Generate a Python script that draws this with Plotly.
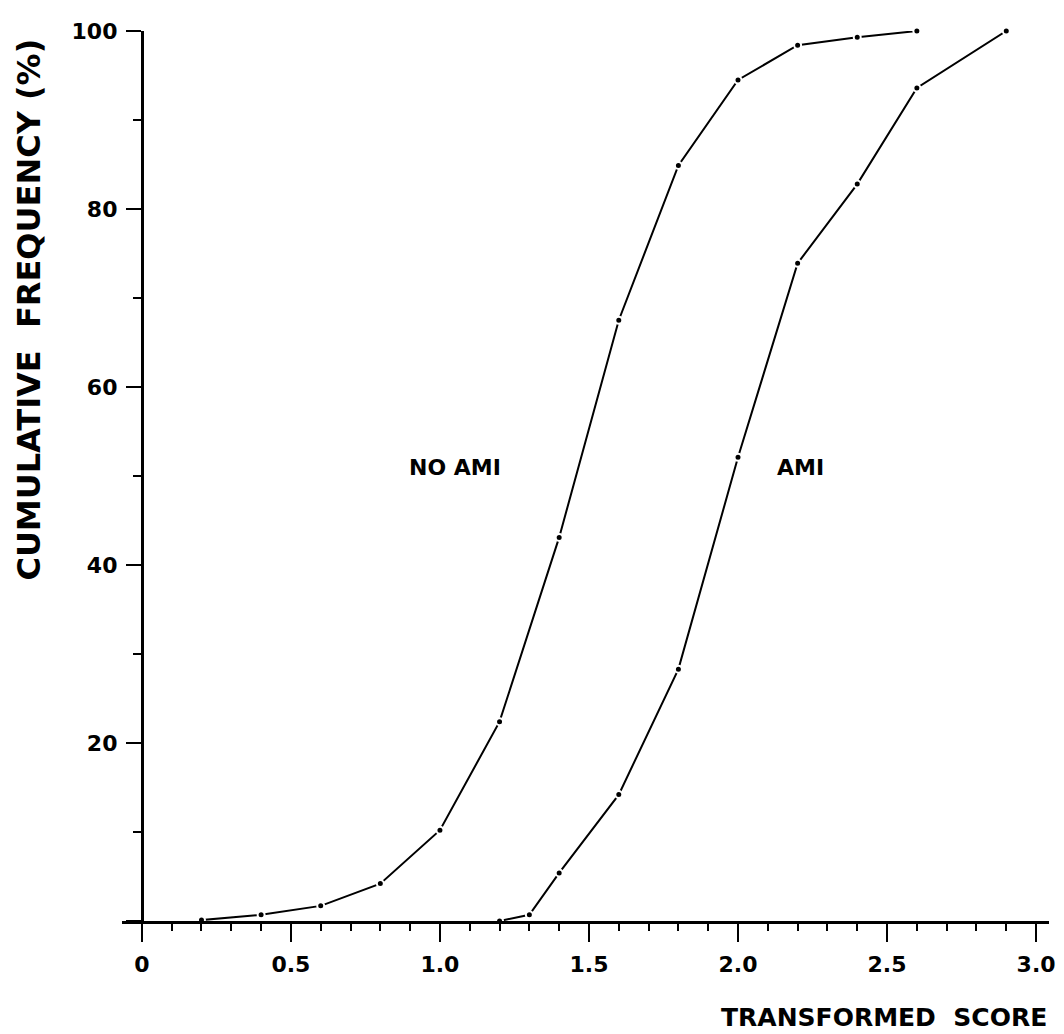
import plotly.graph_objects as go

# ---- data ----
no_ami_x = [0.2, 0.4, 0.6, 0.8, 1.0, 1.2, 1.4, 1.6, 1.8, 2.0, 2.2, 2.4, 2.6]
no_ami_y = [0.1, 0.7, 1.7, 4.2, 10.2, 22.4, 43.1, 67.5, 84.9, 94.5, 98.4, 99.3, 100.0]

ami_x = [1.2, 1.3, 1.4, 1.6, 1.8, 2.0, 2.2, 2.4, 2.6, 2.9]
ami_y = [0.0, 0.7, 5.4, 14.2, 28.3, 52.1, 73.9, 82.8, 93.6, 100.0]

x_tickvals = [0, 0.5, 1.0, 1.5, 2.0, 2.5, 3.0]
x_ticktext = ["0", "0.5", "1.0", "1.5", "2.0", "2.5", "3.0"]
y_tickvals = [0, 20, 40, 60, 80, 100]
y_ticktext = ["", "20", "40", "60", "80", "100"]

x_title = "TRANSFORMED  SCORE"
y_title = "CUMULATIVE  FREQUENCY (%)"

# ---- figure (page has an 8px body margin) ----
OFF = 8
W, H = 1048, 1018
ML, MT, MB = 114, 23, 105
plot_w = 933
MR = W - ML - plot_w
plot_h = H - MT - MB
bottom_px = H - MB  # figure pixel of y = 0
px_per_x = 300.0
x0 = -20 / px_per_x
x1 = x0 + plot_w / px_per_x

FONT = "DejaVu Sans"

def px_to_paper_x(page_x):
    return (page_x - OFF - ML) / plot_w

def px_to_paper_y(page_y):
    return (bottom_px - (page_y - OFF)) / plot_h

fig = go.Figure()
marker = dict(size=7, color="black", line=dict(color="white", width=2))
fig.add_trace(go.Scatter(x=no_ami_x, y=no_ami_y, mode="lines+markers",
                         line=dict(color="black", width=2), marker=marker,
                         cliponaxis=False, showlegend=False, name="NO AMI"))
fig.add_trace(go.Scatter(x=ami_x, y=ami_y, mode="lines+markers",
                         line=dict(color="black", width=2), marker=marker,
                         cliponaxis=False, showlegend=False, name="AMI"))

fig.add_annotation(x=1.05, y=51, xref="x", yref="y", text="NO AMI", showarrow=False,
                   font=dict(family=FONT, size=22, color="black", weight="bold"))
fig.add_annotation(x=2.21, y=51, xref="x", yref="y", text="AMI", showarrow=False,
                   font=dict(family=FONT, size=22, color="black", weight="bold"))

fig.add_annotation(x=px_to_paper_x(1055), y=px_to_paper_y(1017), xref="paper", yref="paper",
                   xanchor="right", yanchor="middle", text=x_title, showarrow=False,
                   font=dict(family=FONT, size=25, color="black", weight="bold"))
fig.add_annotation(x=px_to_paper_x(28), y=px_to_paper_y(310), xref="paper", yref="paper",
                   xanchor="center", yanchor="middle", textangle=-90, text=y_title, showarrow=False,
                   font=dict(family=FONT, size=32, color="black", weight="bold"))

fig.update_layout(
    width=W, height=H,
    margin=dict(l=ML, r=MR, t=MT, b=MB),
    paper_bgcolor="white", plot_bgcolor="white",
    font=dict(family=FONT, color="black"),
    xaxis=dict(range=[x0, x1], showgrid=False, zeroline=False,
               showline=True, linecolor="black", linewidth=2.5,
               ticks="outside", ticklen=18, tickwidth=2, tickcolor="black",
               tickvals=x_tickvals, ticktext=x_ticktext, ticklabelstandoff=4,
               ticklabeloverflow="allow",
               tickfont=dict(family=FONT, size=22, color="black", weight="bold"),
               minor=dict(dtick=0.1, tick0=0, ticks="outside", ticklen=7, tickwidth=2, tickcolor="black"),
               fixedrange=True),
    yaxis=dict(range=[0, 100], showgrid=False, zeroline=False,
               anchor="free", position=20 / plot_w,
               showline=True, linecolor="black", linewidth=3,
               ticks="outside", ticklen=15, tickwidth=2, tickcolor="black",
               tickvals=y_tickvals, ticktext=y_ticktext, ticklabelstandoff=4,
               tickfont=dict(family=FONT, size=22, color="black", weight="bold"),
               minor=dict(dtick=10, tick0=0, ticks="outside", ticklen=8, tickwidth=2, tickcolor="black"),
               fixedrange=True),
)

fig.write_html(
    "out.html",
    config={"displayModeBar": False},
    post_script="document.querySelectorAll('.main-svg').forEach(function(s){s.style.overflow='visible';});",
)
